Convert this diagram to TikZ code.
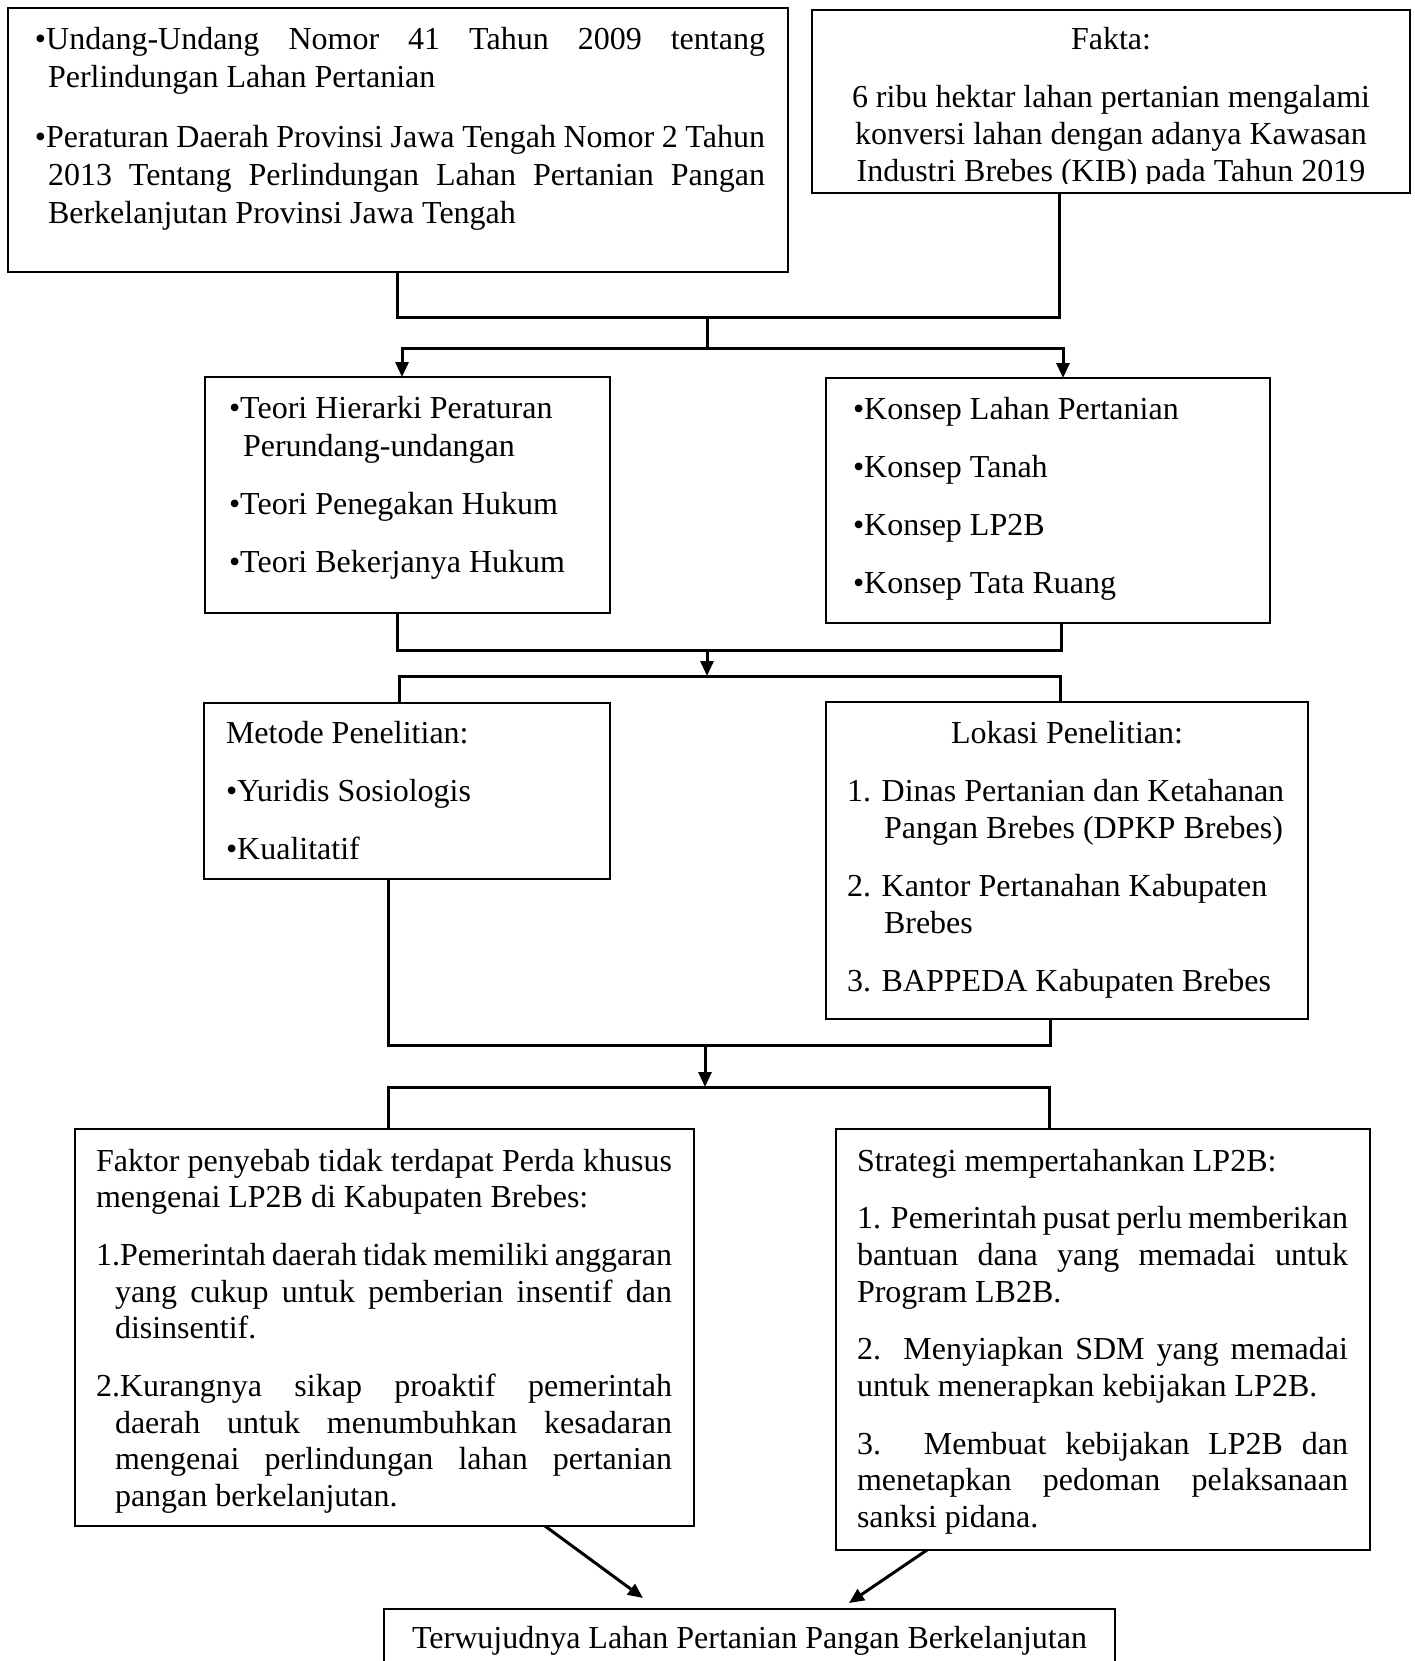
\documentclass[tikz,border=0pt]{standalone}
\usepackage{fontspec}
\setmainfont{Liberation Serif}
\usetikzlibrary{arrows.meta}
\newcommand\bxsetup[4]{\fontsize{32pt}{#1pt}\selectfont\parindent=0pt\parskip=#2pt\relax
  \leftskip=#3pt\relax\rightskip=#4pt\relax\hyphenpenalty=10000\exhyphenpenalty=10000
  \tolerance=10000\hbadness=10000\vbadness=10000\emergencystretch=0pt}
\newcommand\fb[1]{\vspace*{\dimexpr #1pt-30pt-\parskip\relax}\leavevmode\rule{0pt}{30pt}\ignorespaces}
\begin{document}
\begin{tikzpicture}[x=1pt,y=-1pt,
  box/.style={draw, line width=2.2pt, inner sep=0pt, outer sep=0pt, anchor=north west},
  conn/.style={line width=3pt},
  arr/.style={conn, -{Triangle[length=15pt,width=13pt]}}]
\path[fill=white, use as bounding box] (0,0) rectangle (1414,1661);

% top left box
\node[box] (b1) at (8,8) {\parbox[c][264pt][t]{780pt}{\bxsetup{38}{22}{27}{23}%
\fb{42}\hangindent=13pt\hangafter=1 \textbullet Undang-Undang Nomor 41 Tahun 2009 tentang\linebreak Perlindungan Lahan Pertanian\par
\hangindent=13pt\hangafter=1 \textbullet Peraturan Daerah Provinsi Jawa Tengah Nomor 2 Tahun\linebreak 2013 Tentang Perlindungan Lahan Pertanian Pangan\linebreak Berkelanjutan Provinsi Jawa Tengah\par}};

% fakta box
\node[box, minimum width=598pt, minimum height=183pt] (fakta) at (812,10) {};
\begin{scope}
\clip (812,10) rectangle (1410,184);
\node[anchor=north west, inner sep=0pt, outer sep=0pt] (faktatext) at (812,10) {\parbox[c][183pt][t]{598pt}{\bxsetup{37}{21}{0}{0}\centering
\fb{40}Fakta:\par
6 ribu hektar lahan pertanian mengalami\\ konversi lahan dengan adanya Kawasan\\ Industri Brebes (KIB) pada Tahun 2019\par}};
\end{scope}

% teori
\node[box] (b3) at (205,377) {\parbox[c][236pt][t]{405pt}{\bxsetup{38}{20}{24}{0}\rightskip=0pt plus 1fil\relax
\fb{41}\hangindent=14pt\hangafter=1 \textbullet Teori Hierarki Peraturan\\ Perundang-undangan\par
\textbullet Teori Penegakan Hukum\par
\textbullet Teori Bekerjanya Hukum\par}};

% konsep
\node[box] (b4) at (826,378) {\parbox[c][245pt][t]{444pt}{\bxsetup{38}{20}{27}{0}\rightskip=0pt plus 1fil\relax
\fb{41}\textbullet Konsep Lahan Pertanian\par
\textbullet Konsep Tanah\par
\textbullet Konsep LP2B\par
\textbullet Konsep Tata Ruang\par}};

% metode
\node[box] (b5) at (204,703) {\parbox[c][176pt][t]{406pt}{\bxsetup{38}{20}{22}{0}\rightskip=0pt plus 1fil\relax
\fb{40}Metode Penelitian:\par
\textbullet Yuridis Sosiologis\par
\textbullet Kualitatif\par}};

% lokasi
\node[box] (b6) at (826,702) {\parbox[c][317pt][t]{482pt}{\bxsetup{37}{21}{21}{0}\rightskip=0pt plus 1fil\relax
{\centering\fb{41}Lokasi Penelitian:\par}
\hangindent=37pt\hangafter=1 1. Dinas Pertanian dan Ketahanan\\ Pangan Brebes (DPKP Brebes)\par
\hangindent=37pt\hangafter=1 2. Kantor Pertanahan Kabupaten\\ Brebes\par
3. BAPPEDA Kabupaten Brebes\par}};

% faktor
\node[box] (b7) at (75,1129) {\parbox[c][397pt][t]{619pt}{\bxsetup{36.7}{21}{21}{22}%
\fb{42}Faktor penyebab tidak terdapat Perda khusus\linebreak mengenai LP2B di Kabupaten Brebes:\par
\hangindent=19pt\hangafter=1 1.Pemerintah daerah tidak memiliki anggaran\linebreak yang cukup untuk pemberian insentif dan\linebreak disinsentif.\par
\hangindent=19pt\hangafter=1 2.Kurangnya sikap proaktif pemerintah\linebreak daerah untuk menumbuhkan kesadaran\linebreak mengenai perlindungan lahan pertanian\linebreak pangan berkelanjutan.\par}};

% strategi
\node[box] (b8) at (836,1129) {\parbox[c][421pt][t]{534pt}{\bxsetup{36.7}{21}{21}{22}%
\fb{42}Strategi mempertahankan LP2B:\par
1. Pemerintah pusat perlu memberikan\linebreak bantuan dana yang memadai untuk\linebreak Program LB2B.\par
2. Menyiapkan SDM yang memadai\linebreak untuk menerapkan kebijakan LP2B.\par
3. Membuat kebijakan LP2B dan\linebreak menetapkan pedoman pelaksanaan\linebreak sanksi pidana.\par}};

% result
\node[box] (b9) at (384,1609) {\parbox[c][100pt][t]{731pt}{\bxsetup{37}{0}{0}{0}\centering
\fb{39}Terwujudnya Lahan Pertanian Pangan Berkelanjutan\par}};

% connectors level 1
\coordinate (j1) at (397,318);
\coordinate (j2) at (1059,318);
\coordinate (m1) at (707,318);
\coordinate (m2) at (707,348);
\coordinate (k1) at (402,348);
\coordinate (k2) at (1063,348);
\draw[conn] (b1.south -| j1) -- (j1) -- (j2) -- (fakta.south -| j2);
\draw[conn] (m1) -- (m2);
\draw[arr] (m2) -- (k1) -- (k1 |- b3.north);
\draw[arr] (m2) -- (k2) -- (k2 |- b4.north);

% connectors level 2
\coordinate (p1) at (397,650);
\coordinate (p2) at (1061,650);
\coordinate (q1) at (707,650);
\coordinate (q2) at (707,676);
\coordinate (r1) at (399,676);
\coordinate (r2) at (1060,676);
\draw[conn] (b3.south -| p1) -- (p1) -- (p2) -- (b4.south -| p2);
\draw[arr] (q1) -- (q2);
\draw[conn] (b5.north -| r1) -- (r1) -- (r2) -- (b6.north -| r2);

% connectors level 3
\coordinate (s1) at (388,1045);
\coordinate (s2) at (1050,1045);
\coordinate (t1) at (705,1045);
\coordinate (t2) at (705,1087);
\coordinate (u1) at (388,1087);
\coordinate (u2) at (1049,1087);
\draw[conn] (b5.south -| s1) -- (s1) -- (s2) -- (b6.south -| s2);
\draw[arr] (t1) -- (t2);
\draw[conn] (b7.north -| u1) -- (u1) -- (u2) -- (b8.north -| u2);

% final arrows
\coordinate (d1) at (643,1598);
\coordinate (d2) at (849,1603);
\draw[arr] ([xshift=160.5pt]b7.south) -- (d1);
\draw[arr] ([xshift=-176pt]b8.south) -- (d2);
\end{tikzpicture}
\end{document}
